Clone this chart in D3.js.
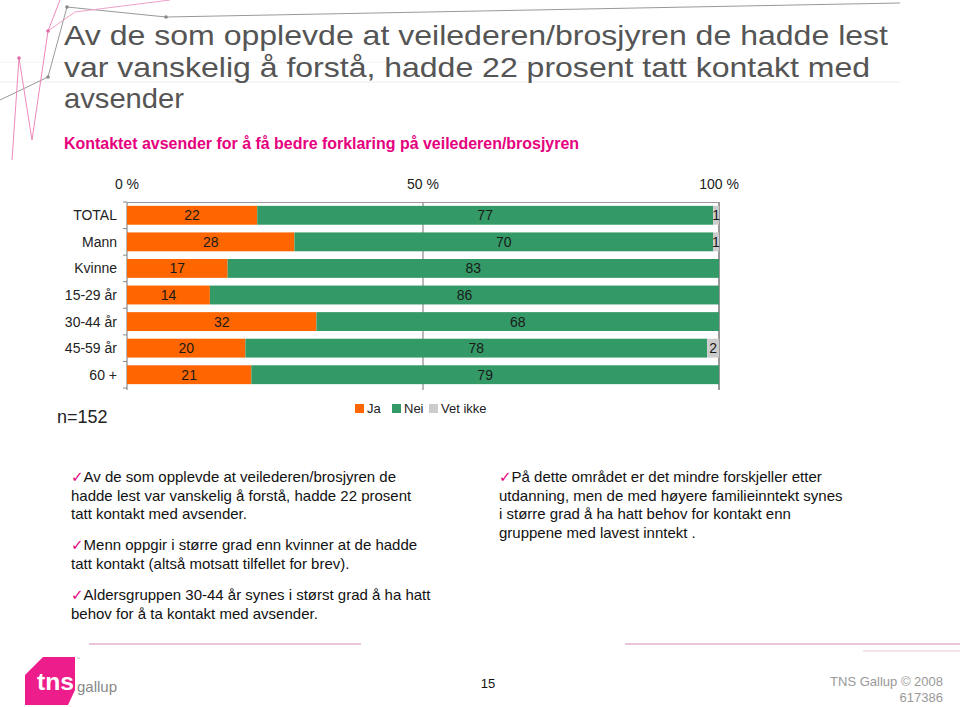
<!DOCTYPE html>
<html>
<head>
<meta charset="utf-8">
<script src="https://cdn.jsdelivr.net/npm/d3@7"></script>
<style>
  html, body { margin: 0; padding: 0; background: #fff; }
  svg { display: block; font-family: "Liberation Sans", Arial, sans-serif; }
</style>
</head>
<body>
<svg id="chart" width="960" height="707"></svg>
<script>
// ---- data ----
const categories = ["TOTAL", "Mann", "Kvinne", "15-29 år", "30-44 år", "45-59 år", "60 +"];
const ja      = [22, 28, 17, 14, 32, 20, 21];
const nei     = [77, 70, 83, 86, 68, 78, 79];
const vetIkke = [1, 1, 0, 0, 0, 2, 0];
const seriesNames = ["Ja", "Nei", "Vet ikke"];
const tickValues = [0, 50, 100];
const tickLabels = ["0 %", "50 %", "100 %"];

const titleLines = [
  "Av de som opplevde at veilederen/brosjyren de hadde lest",
  "var vanskelig å forstå, hadde 22 prosent tatt kontakt med",
  "avsender"
];
const subtitle = "Kontaktet avsender for å få bedre forklaring på veilederen/brosjyren";
const leftBullets = [
  ["Av de som opplevde at veilederen/brosjyren de", "hadde lest var vanskelig å forstå, hadde 22 prosent", "tatt kontakt med avsender."],
  ["Menn oppgir i større grad enn kvinner at de hadde", "tatt kontakt (altså motsatt tilfellet for brev)."],
  ["Aldersgruppen 30-44 år synes i størst grad å ha hatt", "behov for å ta kontakt med avsender."]
];
const rightBullets = [
  ["På dette området er det mindre forskjeller etter", "utdanning, men de med høyere familieinntekt synes", "i større grad å ha hatt behov for kontakt enn", "gruppene med lavest inntekt ."]
];

// ---- styles ----
const colors = ["#FF6600", "#339966", "#CCCCCC"];
const magenta = "#E6007E";

const svg = d3.select("#chart");

// ---- decorative background (top-left) ----
const deco = svg.append("g");
deco.append("line").attr("x1", 0).attr("x2", 900).attr("y1", 82).attr("y2", 82)
  .attr("stroke", "#ececec").attr("stroke-width", 1);
deco.append("line").attr("x1", 0).attr("x2", 700).attr("y1", 62).attr("y2", 62)
  .attr("stroke", "#f2f2f2").attr("stroke-width", 1);
deco.append("polyline")
  .attr("points", "0,100 48,77 67,7 166,17 900,3")
  .attr("fill", "none").attr("stroke", "#999").attr("stroke-width", 1);
deco.append("polyline")
  .attr("points", "60,0 48,31 32,140 19,58 12,160")
  .attr("fill", "none").attr("stroke", "#ee88bb").attr("stroke-width", 1);
deco.append("polyline")
  .attr("points", "48,31 75,12 170,0")
  .attr("fill", "none").attr("stroke", "#f0a0c8").attr("stroke-width", 1);
[[67,7,"#888"],[166,17,"#888"],[48,77,"#888"],[48,31,"#e06aa8"],[19,58,"#e06aa8"]].forEach(p => {
  deco.append("circle").attr("cx", p[0]).attr("cy", p[1]).attr("r", 1.8).attr("fill", p[2]);
});

// ---- title ----
const titleWidths = [824, 806, 120];
titleLines.forEach((t, i) => {
  svg.append("text")
    .attr("x", 64).attr("y", 45 + i * 31.5)
    .attr("font-size", 28).attr("fill", "#555555")
    .attr("textLength", titleWidths[i]).attr("lengthAdjust", "spacingAndGlyphs")
    .text(t);
});
svg.append("text")
  .attr("x", 64).attr("y", 149)
  .attr("font-size", 16).attr("font-weight", "bold").attr("fill", magenta)
  .attr("textLength", 515).attr("lengthAdjust", "spacingAndGlyphs")
  .text(subtitle);

// ---- chart ----
const x = d3.scaleLinear().domain([0, 1]).range([127, 719]);
const y = d3.scaleBand().domain(categories).range([202, 388]).paddingInner(0.29).paddingOuter(0.145);

const stackData = categories.map((c, i) => ({ cat: c, Ja: ja[i], Nei: nei[i], "Vet ikke": vetIkke[i] }));
const stack = d3.stack().keys(seriesNames).offset(d3.stackOffsetExpand)(stackData);

// grid lines
const g = svg.append("g");
g.selectAll("line.grid").data(tickValues).join("line")
  .attr("class", "grid")
  .attr("x1", d => x(d / 100)).attr("x2", d => x(d / 100))
  .attr("y1", 202).attr("y2", 390)
  .attr("stroke", d => d === 100 ? "#555" : "#8a8a8a").attr("stroke-width", 1.2);
// top axis line
g.append("line").attr("x1", x(0)).attr("x2", x(1)).attr("y1", 202.5).attr("y2", 202.5)
  .attr("stroke", "#999").attr("stroke-width", 1);
// left ticks at band boundaries
const boundaries = d3.range(categories.length + 1).map(i => 202 + i * (186 / categories.length));
g.selectAll("line.ltick").data(boundaries).join("line")
  .attr("class", "ltick")
  .attr("x1", x(0) - 4).attr("x2", x(0))
  .attr("y1", d => d).attr("y2", d => d)
  .attr("stroke", "#8a8a8a");

// tick labels
g.selectAll("text.tick").data(tickValues).join("text")
  .attr("class", "tick")
  .attr("x", d => x(d / 100)).attr("y", 189)
  .attr("text-anchor", "middle").attr("font-size", 14).attr("fill", "#222")
  .text((d, i) => tickLabels[i]);

// bars
stack.forEach((layer, si) => {
  const key = layer.key;
  const lg = g.append("g");
  lg.selectAll("rect").data(layer).join("rect")
    .attr("x", d => x(d[0])).attr("width", d => x(d[1]) - x(d[0]))
    .attr("y", d => y(d.data.cat)).attr("height", y.bandwidth())
    .attr("fill", colors[si]);
  lg.selectAll("text").data(layer.filter(d => d.data[key] > 0)).join("text")
    .attr("x", d => (x(d[0]) + x(d[1])) / 2)
    .attr("y", d => y(d.data.cat) + y.bandwidth() / 2 + 5)
    .attr("text-anchor", "middle").attr("font-size", 14).attr("fill", "#1a1a1a")
    .text(d => d.data[key]);
});

// category labels
g.selectAll("text.cat").data(categories).join("text")
  .attr("class", "cat")
  .attr("x", 117).attr("y", d => y(d) + y.bandwidth() / 2 + 5)
  .attr("text-anchor", "end").attr("font-size", 14).attr("fill", "#222")
  .text(d => d);

// legend
const legendX = [355, 392, 429];
const leg = svg.append("g");
seriesNames.forEach((s, i) => {
  leg.append("rect").attr("x", legendX[i]).attr("y", 404).attr("width", 9).attr("height", 9).attr("fill", colors[i]);
  leg.append("text").attr("x", legendX[i] + 12).attr("y", 413)
    .attr("font-size", 13).attr("fill", "#222").text(s);
});

// n=
svg.append("text").attr("x", 57).attr("y", 423).attr("font-size", 18).attr("fill", "#222").text("n=152");

// ---- bullet text ----
function bullets(list, x0, paraStarts) {
  list.forEach((para, pi) => {
    para.forEach((line, li) => {
      const t = svg.append("text")
        .attr("x", x0).attr("y", paraStarts[pi] + li * 18.6)
        .attr("font-size", 15).attr("fill", "#111");
      if (li === 0) {
        t.append("tspan").attr("fill", magenta).attr("font-family", "DejaVu Sans").attr("font-size", 15).text("✓");
      }
      t.append("tspan").text(line);
    });
  });
}
bullets(leftBullets, 71, [482, 550, 600]);
bullets(rightBullets, 499, [482]);

// ---- footer ----
const foot = svg.append("g");
foot.append("line").attr("x1", 89).attr("x2", 361).attr("y1", 644).attr("y2", 644)
  .attr("stroke", "#e9c6da").attr("stroke-width", 2);
foot.append("line").attr("x1", 625).attr("x2", 960).attr("y1", 644).attr("y2", 644)
  .attr("stroke", "#e9c6da").attr("stroke-width", 2);
foot.append("line").attr("x1", 863).attr("x2", 960).attr("y1", 651).attr("y2", 651)
  .attr("stroke", "#f0d8e6").attr("stroke-width", 1.5);

foot.append("path")
  .attr("d", "M25,675 L43,657 L75,657 L75,690 L68,705 L25,705 Z")
  .attr("fill", "#EE1D8C");
foot.append("text").attr("x", 37).attr("y", 690).attr("font-size", 23).attr("font-weight", "bold")
  .attr("fill", "#fff").attr("textLength", 37).attr("lengthAdjust", "spacingAndGlyphs").text("tns");
foot.append("text").attr("x", 77).attr("y", 692).attr("font-size", 15).attr("fill", "#888")
  .attr("textLength", 40).attr("lengthAdjust", "spacingAndGlyphs").text("gallup");
foot.append("text").attr("x", 76).attr("y", 660).attr("font-size", 4).attr("fill", "#999").text("™");

foot.append("text").attr("x", 488).attr("y", 688).attr("text-anchor", "middle")
  .attr("font-size", 13).attr("fill", "#111").text("15");
foot.append("text").attr("x", 943).attr("y", 686).attr("text-anchor", "end")
  .attr("font-size", 13).attr("fill", "#999").text("TNS Gallup © 2008");
foot.append("text").attr("x", 943).attr("y", 702).attr("text-anchor", "end")
  .attr("font-size", 13).attr("fill", "#999").text("617386");
</script>
</body>
</html>
